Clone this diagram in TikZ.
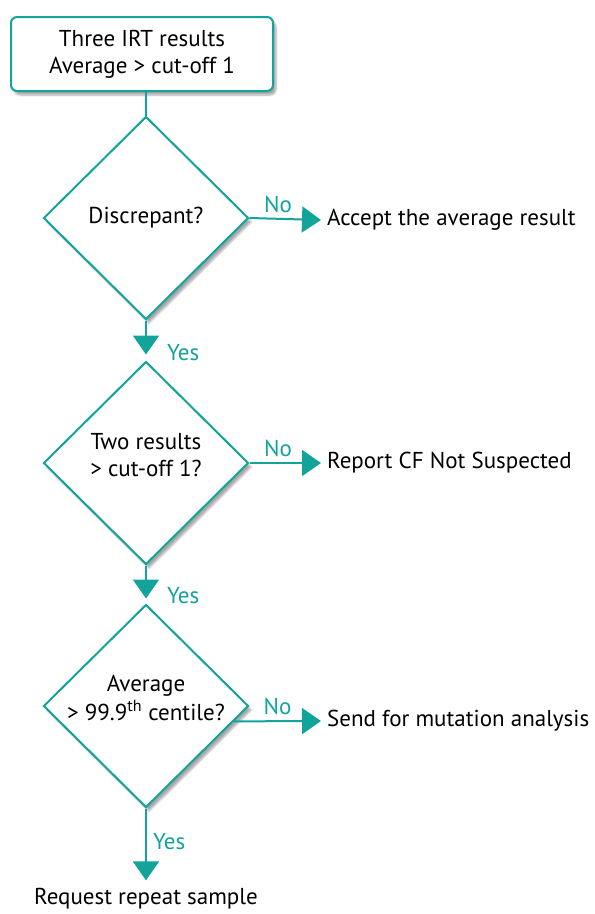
\documentclass[tikz,border=0pt]{standalone}
\usepackage{fontspec}
\setmainfont{PT Sans}
\usetikzlibrary{arrows.meta,positioning,calc,shapes.geometric,shadows.blur}
\definecolor{cfteal}{HTML}{12A39A}
% two-line question, set a little above the diamond's centre
\newcommand{\question}[1]{\raisebox{-1pt}[0pt][0pt]{\begin{tabular}{@{}c@{}}#1\end{tabular}}}

\begin{document}
\begin{tikzpicture}[
    x=1pt, y=-1pt,
    >={Triangle[length=19pt,width=26pt]},
    every node/.style={font=\fontsize{23}{27}\selectfont},
    shade/.style={blur shadow={shadow xshift=3pt,shadow yshift=-4pt,
                  shadow opacity=35,shadow blur steps=6}},
    startbox/.style={draw=cfteal,line width=2pt,rounded corners=6pt,fill=white,
                     minimum width=262pt,minimum height=74pt,align=center,shade},
    decision/.style={diamond,draw=cfteal,line width=2pt,fill=white,
                     minimum width=205pt,minimum height=203pt,inner sep=0pt,
                     align=center,shade},
    outcome/.style={inner sep=6pt,text=black},
    choice/.style={text=cfteal,inner sep=2pt},
    link/.style={draw=cfteal,line width=2pt},
    flow/.style={link,->},
  ]
  \useasboundingbox (0,0) rectangle (595,914);

  % --- start and the three questions ---
  \node[startbox] (irt)  at (142,54)  {Three IRT results\\Average > cut-off 1};
  \node[decision] (disc) at (146,218) {Discrepant?};
  \node[decision] (two)  at (146,463) {\question{Two results\\> cut-off 1?}};
  \node[decision] (avg)  at (146,706) {\question{Average\\> 99.9\textsuperscript{th} centile?}};

  % --- outcomes ---
  \node[outcome,anchor=west] (accept) at (321,220) {Accept the average result};
  \node[outcome,anchor=west] (report) at (321,463) {Report CF Not Suspected};
  \node[outcome,anchor=west] (send)   at (321,721) {Send for mutation analysis};
  \node[outcome] (repeat) at (146,899) {Request repeat sample};

  % --- Yes branches ---
  \draw[link] (irt.south -| disc.north) -- (disc.north);
  \draw[flow,shorten >=6pt] (disc.south) --
    node[choice,right,pos=0.8,xshift=18pt] {Yes} (two.north);
  \draw[flow,shorten >=5pt] (two.south) --
    node[choice,right,pos=0.8,xshift=18pt] {Yes} (avg.north);
  \draw[flow,shorten >=2pt] (avg.south) --
    node[choice,right,pos=0.45,xshift=4pt] {Yes} (repeat.north);

  % --- No branches ---
  \draw[flow] (disc.east) -- node[choice,above,pos=0.4,yshift=3pt] {No} (accept.west);
  \draw[flow] (two.east) -- node[choice,above,pos=0.4,yshift=3pt] {No} (report.west);
  \draw[flow] ($(avg.east)!0.15!(avg.south)$) --
    node[choice,above,pos=0.5,yshift=3pt] {No} (send.west);

\end{tikzpicture}
\end{document}
